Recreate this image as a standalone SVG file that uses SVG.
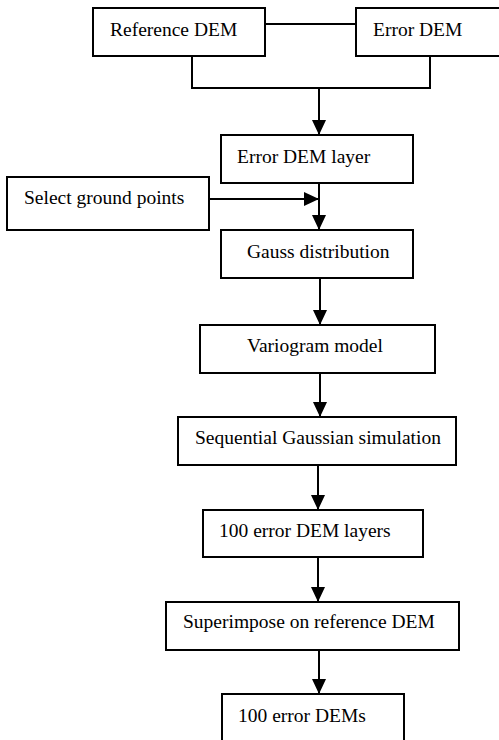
<svg xmlns="http://www.w3.org/2000/svg" width="499" height="740" viewBox="0 0 499 740">
<style>
.box{fill:#fff;stroke:#000;stroke-width:2}
.t{font-family:"Liberation Serif","Times New Roman",serif;font-size:19.5px;fill:#000}
.c{fill:none;stroke:#000;stroke-width:2}
.a{fill:none;stroke:#000;stroke-width:2;marker-end:url(#ah)}
</style>
<defs>
<marker id="ah" markerUnits="userSpaceOnUse" markerWidth="15" markerHeight="14" refX="15" refY="7" orient="auto" viewBox="0 0 15 14">
<path d="M0,0 L15,7 L0,14 Z" fill="#000"/>
</marker>
</defs>
<rect width="499" height="740" fill="#fff"/>
<g id="connectors">
<line class="c" x1="265" y1="24" x2="356" y2="24"/>
<polyline class="c" points="192,56 192,88 430,88 430,56"/>
<line class="a" x1="319" y1="88" x2="319" y2="135"/>
<line class="a" x1="209" y1="199" x2="319" y2="199"/>
<line class="a" x1="319" y1="183" x2="319" y2="230"/>
<line class="a" x1="320" y1="278" x2="320" y2="325"/>
<line class="a" x1="320" y1="373" x2="320" y2="417"/>
<line class="a" x1="318" y1="465" x2="318" y2="510"/>
<line class="a" x1="318" y1="557" x2="318" y2="602"/>
<line class="a" x1="319" y1="650" x2="319" y2="694"/>
</g>
<g id="reference-dem"><rect class="box" x="93" y="8" width="172" height="48"/><text class="t" x="110" y="36">Reference DEM</text></g>
<g id="error-dem"><rect class="box" x="356" y="8" width="150" height="48"/><text class="t" x="373" y="36">Error DEM</text></g>
<g id="error-dem-layer"><rect class="box" x="221" y="135" width="192" height="48"/><text class="t" x="237" y="163">Error DEM layer</text></g>
<g id="select-ground-points"><rect class="box" x="7" y="177" width="202" height="53"/><text class="t" x="24" y="204">Select ground points</text></g>
<g id="gauss-distribution"><rect class="box" x="221" y="230" width="192" height="48"/><text class="t" x="247" y="258">Gauss distribution</text></g>
<g id="variogram-model"><rect class="box" x="200" y="325" width="235" height="48"/><text class="t" x="247" y="352">Variogram model</text></g>
<g id="sgs"><rect class="box" x="178" y="417" width="278" height="48"/><text class="t" x="195" y="444">Sequential Gaussian simulation</text></g>
<g id="error-dem-layers-100"><rect class="box" x="203" y="510" width="220" height="47"/><text class="t" x="219" y="537">100 error DEM layers</text></g>
<g id="superimpose"><rect class="box" x="166" y="602" width="293" height="48"/><text class="t" x="183" y="628">Superimpose on reference DEM</text></g>
<g id="error-dems-100"><rect class="box" x="222" y="694" width="182" height="60"/><text class="t" x="238" y="722">100 error DEMs</text></g>
</svg>
